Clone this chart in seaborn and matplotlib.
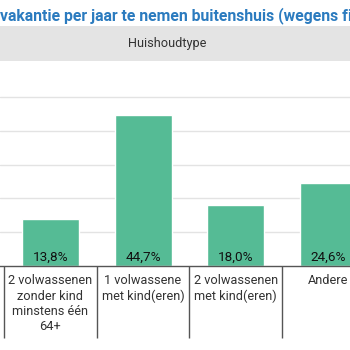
import matplotlib
matplotlib.use("Agg")
import matplotlib.pyplot as plt
import seaborn as sns
import pandas as pd
from matplotlib.patches import Rectangle
from matplotlib.ticker import FixedLocator

categories = ["2 volwassenen\nzonder kind\nminstens één\n64+",
              "1 volwassene\nmet kind(eren)",
              "2 volwassenen\nmet kind(eren)",
              "Andere"]
values = [13.8, 44.7, 18.0, 24.6]
value_labels = ["13,8%", "44,7%", "18,0%", "24,6%"]
title = "vakantie per jaar te nemen buitenshuis (wegens fi"
header = "Huishoudtype"

sns.set_theme(style="white")
plt.rcParams["font.family"] = ["Roboto", "DejaVu Sans"]

fig = plt.figure(figsize=(3.5, 3.5), dpi=100)
ax = fig.add_axes([0, 0.24, 1, 0.58])

df = pd.DataFrame({"cat": categories, "val": values})
sns.barplot(data=df, x="cat", y="val", color="#55bb95", saturation=1,
            width=0.615, ax=ax)

ax.set_xlim(-0.543, 3.233)
ax.set_ylim(0, 60)
for g in [10, 20, 30, 40, 50]:
    ax.axhline(g, color="#e3e3e3", lw=1, zorder=0)
for s in ["top", "right", "left"]:
    ax.spines[s].set_visible(False)
ax.spines["bottom"].set_color("#555555")
ax.spines["bottom"].set_linewidth(1)
ax.set_yticks([])
ax.set_xlabel("")
ax.set_ylabel("")

ax.tick_params(axis="x", which="major", bottom=False, length=0, pad=6,
               labelsize=9.2, labelcolor="#333333")
for lbl in ax.get_xticklabels():
    lbl.set_linespacing(1.22)
ax.xaxis.set_minor_locator(FixedLocator([-0.5, 0.5, 1.5, 2.5]))
ax.tick_params(axis="x", which="minor", bottom=True, direction="out",
               length=52, width=1, color="#555555")

for i, lab in enumerate(value_labels):
    ax.annotate(lab, (i, 0), xytext=(0, 1.5), textcoords="offset points",
                ha="center", va="bottom", fontsize=9.7, color="#111111")

fig.patches.append(Rectangle((0, 0.8257), 1, 0.1, transform=fig.transFigure,
                             facecolor="#e4e4e4", edgecolor="none", zorder=0))
fig.text(0.477, 0.877, header, ha="center", va="center", fontsize=9.2,
         color="#333333")
fig.text(0.0, 0.943, title, ha="left", va="baseline", fontsize=11.3,
         fontweight="bold", color="#2b7bbf")

fig.savefig("out.png", dpi=100)
